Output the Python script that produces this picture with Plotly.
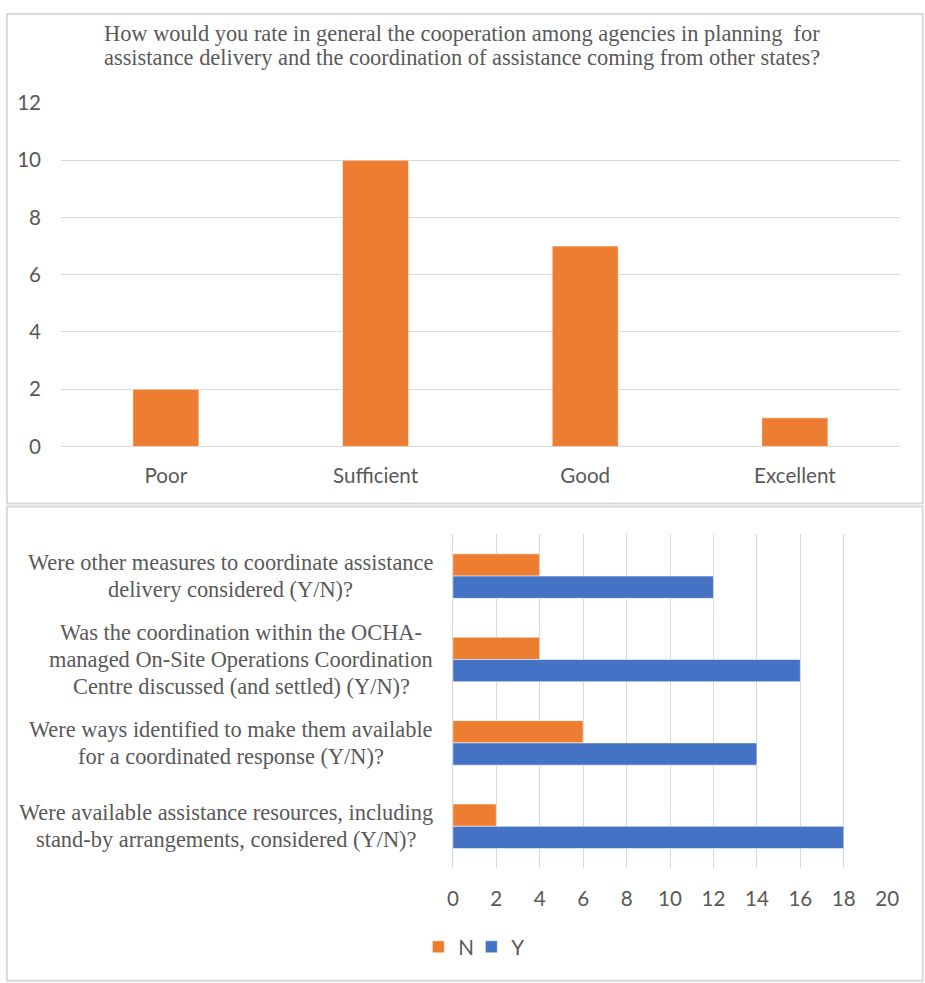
import plotly.graph_objects as go

# Screen placement of the figure inside the page (scale and offset of the rendered page)
SX, OX = 0.98, 7.0
SY, OY = 0.977, 12.0
W = round((925 - OX) / SX)
H = round((983 - OY) / SY)

# Top chart: overall rating
rating_labels = ["Poor", "Sufficient", "Good", "Excellent"]
rating_counts = [2, 10, 7, 1]

# Bottom chart: yes/no questions (listed top to bottom), one list entry per text line
question_lines = [
    ["Were other measures to coordinate assistance", "delivery considered (Y/N)?"],
    ["Was the coordination within the OCHA-", "managed On-Site Operations Coordination",
     "Centre discussed (and settled) (Y/N)?"],
    ["Were ways identified to make them available", "for a coordinated response (Y/N)?"],
    ["Were available assistance resources, including", "stand-by arrangements, considered (Y/N)?"],
]
questions = [" ".join(lines) for lines in question_lines]
answers_n = [4, 4, 6, 2]
answers_y = [12, 16, 14, 18]

title_lines = [
    "How would you rate in general the cooperation among agencies in planning  for",
    "assistance delivery and the coordination of assistance coming from other states?",
]

ORANGE = "#ED7D31"
BLUE = "#4472C4"
GRID = "#D9D9D9"
TXT = "#595959"
SERIF = "Liberation Serif, Times New Roman, serif"
SANS = "Lato, Open Sans, sans-serif"
EDGE = dict(color="rgba(255,255,255,0.55)", width=1)
SERIF_SIZE = 22.4
SANS_SIZE = 20.6


def px_x(p):
    """Screen x (px) -> paper fraction."""
    return ((p - OX) / SX) / W


def px_y(p):
    """Screen y (px, from top) -> paper fraction."""
    return 1 - ((p - OY) / SY) / H


fig = go.Figure()

fig.add_trace(go.Bar(
    x=rating_labels, y=rating_counts, width=0.315,
    marker=dict(color=ORANGE, line=EDGE),
    xaxis="x", yaxis="y", showlegend=False, name="",
))

BAR_W = 0.267
fig.add_trace(go.Bar(
    y=questions, x=answers_n, orientation="h", name="N",
    width=BAR_W, offset=-BAR_W,
    marker=dict(color=ORANGE, line=EDGE),
    xaxis="x2", yaxis="y2",
))
fig.add_trace(go.Bar(
    y=questions, x=answers_y, orientation="h", name="Y",
    width=BAR_W, offset=0,
    marker=dict(color=BLUE, line=EDGE),
    xaxis="x2", yaxis="y2",
))

# Question labels: each line centred within its block, block centred on the category
LINE_STEP = 26.5 / SY
label_centres = [231, 242, 232, 227]
annotations = []
for q, lines, cx in zip(questions, question_lines, label_centres):
    n = len(lines)
    for i, line in enumerate(lines):
        annotations.append(dict(
            text=line, x=px_x(cx), xref="paper", xanchor="center",
            y=q, yref="y2", yanchor="middle", yshift=-(i - (n - 1) / 2) * LINE_STEP,
            showarrow=False, font=dict(family=SERIF, size=SERIF_SIZE, color=TXT),
        ))

for line, cy in zip(title_lines, [32.5, 56.5]):
    annotations.append(dict(
        text=line, x=px_x(463), xref="paper", xanchor="center", y=px_y(cy), yref="paper",
        yanchor="middle", showarrow=False, font=dict(family=SERIF, size=SERIF_SIZE, color=TXT),
    ))

# Panel frames
shapes = [
    dict(type="rect", xref="paper", yref="paper", x0=0.001, x1=px_x(923), y0=px_y(503), y1=0.999,
         line=dict(color=GRID, width=2)),
    dict(type="rect", xref="paper", yref="paper", x0=0.001, x1=px_x(923), y0=px_y(981), y1=px_y(506),
         line=dict(color=GRID, width=2)),
]

fig.update_layout(
    width=W, height=H, margin=dict(l=0, r=0, t=0, b=0),
    paper_bgcolor="white", plot_bgcolor="white",
    barmode="overlay",
    font=dict(family=SANS, color=TXT, size=SANS_SIZE),
    xaxis=dict(domain=[px_x(62), px_x(900)], anchor="y", showgrid=False, showline=False,
               ticks="", tickfont=dict(size=SANS_SIZE, color=TXT), ticklabelstandoff=15),
    yaxis=dict(domain=[px_y(446), px_y(102)], anchor="x", range=[0, 12], dtick=2,
               showgrid=True, gridcolor=GRID, gridwidth=1.3, zeroline=True, zerolinecolor=GRID,
               zerolinewidth=1.3, ticks="", tickfont=dict(size=SANS_SIZE, color=TXT), ticklabelstandoff=19),
    xaxis2=dict(domain=[px_x(453.5), px_x(887.5)], anchor="y2", range=[0, 20], dtick=2,
                showgrid=True, gridcolor=GRID, gridwidth=1.3, zeroline=True, zerolinecolor=GRID,
                zerolinewidth=1.3, ticks="", tickfont=dict(size=SANS_SIZE, color=TXT), ticklabelstandoff=16),
    yaxis2=dict(domain=[px_y(868), px_y(534)], anchor="x2", autorange="reversed",
                showticklabels=False, showgrid=False, ticks=""),
    legend=dict(orientation="h", x=px_x(419), xanchor="left", y=px_y(947), yanchor="middle",
                font=dict(family=SANS, size=SANS_SIZE, color=TXT), traceorder="normal",
                itemwidth=30, entrywidth=8, bgcolor="rgba(0,0,0,0)"),
    annotations=annotations,
    shapes=shapes,
)

fig.write_html("out.html")
